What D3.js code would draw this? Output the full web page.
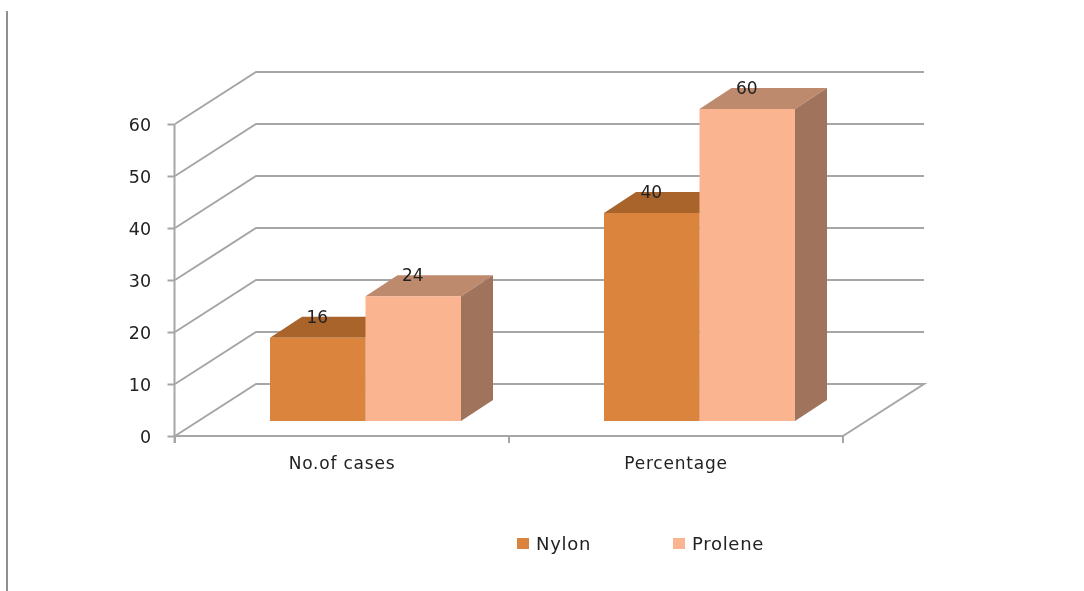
<!DOCTYPE html>
<html><head><meta charset="utf-8">
<style>html,body{margin:0;padding:0;background:#fff;overflow:hidden}svg{display:block;filter:blur(0.4px)}
text{font-family:"DejaVu Sans",sans-serif;fill:#222}
.axis path,.axis line{stroke:#a6a6a6}</style>
<script src="https://cdn.jsdelivr.net/npm/d3@7"></script></head><body>
<script>
const categories = ["No.of cases", "Percentage"];
const seriesNames = ["Nylon", "Prolene"];
const nylon = [16, 40];
const prolene = [24, 60];
const yTicks = [0, 10, 20, 30, 40, 50, 60];
const frontColors = ["#DB843D", "#FBB490"];
const topColors = ["#A9642C", "#BE8A6E"];
const sideColors = ["#8F5A30", "#A0735C"];

const W = 1084, H = 591;
const svg = d3.select("body").append("svg").attr("width", W).attr("height", H);

const y = d3.scaleLinear().domain([0, 60]).range([436, 124]);
const x = d3.scaleBand().domain(categories).range([175, 843]);
const x1 = d3.scaleBand().domain(seriesNames).range([-95.5, 95.5]);
const wall = {dx: 81, dy: -52};
const barFront = {dx: 23.5, dy: -15};
const barDepth = {dx: 32, dy: -21};
const lineFn = d3.line();
const ff = '"DejaVu Sans",sans-serif';

// left page rule
svg.append("line").attr("x1", 7).attr("x2", 7).attr("y1", 11).attr("y2", H)
  .attr("stroke", "#8f8f8f").attr("stroke-width", 2);

// floor
const x0 = x.range()[0], xN = x.range()[1];
svg.append("path").attr("fill", "none").attr("stroke", "#a6a6a6").attr("stroke-width", 2)
  .attr("d", lineFn([[x0 + wall.dx, y(0) + wall.dy], [xN + wall.dx, y(0) + wall.dy], [xN, y(0)]]));

// walls
svg.append("g").selectAll("path").data(yTicks).join("path")
  .attr("fill", "none").attr("stroke", "#a6a6a6").attr("stroke-width", 2)
  .attr("d", d => lineFn([[x0, y(d)], [x0 + wall.dx, y(d) + wall.dy], [xN + wall.dx, y(d) + wall.dy]]));

// bars
const rows = categories.flatMap((c, i) => [
  {c, s: seriesNames[0], k: 0, v: nylon[i]},
  {c, s: seriesNames[1], k: 1, v: prolene[i]}
]);
const bars = svg.append("g").selectAll("g").data(rows).join("g");
const left = d => x(d.c) + x.bandwidth() / 2 + x1(d.s) + barFront.dx;
const right = d => left(d) + x1.bandwidth();
const base = barFront.dy;
bars.append("path").attr("fill", d => topColors[d.k])
  .attr("d", d => lineFn([[left(d), y(d.v) + base], [right(d), y(d.v) + base],
    [right(d) + barDepth.dx, y(d.v) + base + barDepth.dy], [left(d) + barDepth.dx, y(d.v) + base + barDepth.dy]]) + "Z");
bars.append("path").attr("fill", d => sideColors[d.k])
  .attr("d", d => lineFn([[right(d), y(d.v) + base], [right(d) + barDepth.dx, y(d.v) + base + barDepth.dy],
    [right(d) + barDepth.dx, y(0) + base + barDepth.dy], [right(d), y(0) + base]]) + "Z");
bars.append("rect").attr("fill", d => frontColors[d.k])
  .attr("x", left).attr("y", d => y(d.v) + base)
  .attr("width", x1.bandwidth()).attr("height", d => y(0) - y(d.v));
bars.append("text").attr("text-anchor", "middle").attr("font-size", 17)
  .attr("x", d => left(d) + x1.bandwidth() / 2 - 0.5)
  .attr("y", d => y(d.v) + base + barDepth.dy + 6)
  .text(d => d.v);

// axes
const yAxis = d3.axisLeft(y).tickValues(yTicks).tickSize(7).tickPadding(16);
const gy = svg.append("g").attr("class", "axis").attr("transform", `translate(${x0 - 0.5},0)`).call(yAxis);
gy.selectAll("path,line").attr("stroke-width", 2);
gy.select(".domain").attr("d", `M0,${y(60)}V${y(0)+7}`);
gy.selectAll("text").attr("font-size", 17.5).attr("font-family", ff).attr("fill", "#222").attr("dy", "0.36em").attr("letter-spacing", "0.3px");

const xAxis = d3.axisBottom(x).tickSize(0).tickPadding(21);
const gx = svg.append("g").attr("class", "axis").attr("transform", `translate(0,${y(0)})`).call(xAxis);
gx.select(".domain").attr("stroke-width", 2).attr("d", `M${x0 - 1},0H${xN}`);
gx.selectAll("text").attr("font-size", 17).attr("font-family", ff).attr("fill", "#222").attr("letter-spacing", "0.8px");
gx.append("g").selectAll("line").data([x0, x(categories[1]), xN]).join("line")
  .attr("x1", d => d).attr("x2", d => d).attr("y1", 0).attr("y2", 7)
  .attr("stroke", "#a6a6a6").attr("stroke-width", 2);

// legend
const legendX = d3.scaleOrdinal().domain(seriesNames).range([517, 673]);
const lg = svg.append("g").selectAll("g").data(seriesNames).join("g")
  .attr("transform", d => `translate(${legendX(d)},538)`);
lg.append("rect").attr("width", 12).attr("height", 11).attr("fill", (d, i) => frontColors[i]);
lg.append("text").attr("x", 19).attr("y", 11.5).attr("font-size", 18).attr("letter-spacing", "0.7px").text(d => d);
</script></body></html>
